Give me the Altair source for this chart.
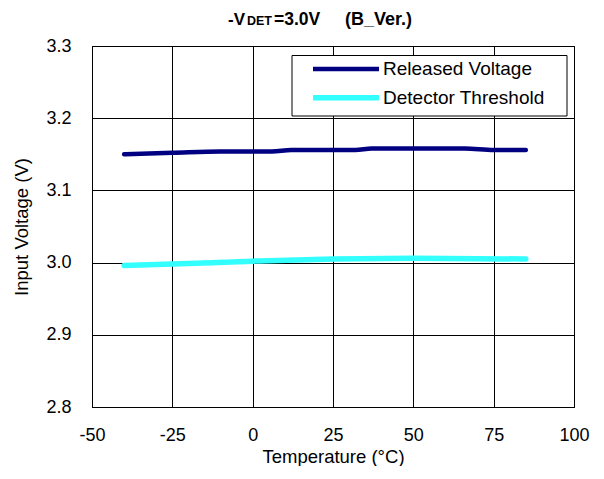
import altair as alt
import pandas as pd

# ---- data ----
rel_temp = [-40, -25, -10, 6, 12, 32, 37, 66, 75, 85]
rel_volt = [3.150, 3.152, 3.154, 3.154, 3.156, 3.156, 3.158, 3.158, 3.156, 3.156]
det_temp = [-40, -25, 0, 25, 50, 85]
det_volt = [2.996, 2.998, 3.002, 3.005, 3.006, 3.005]

series = ["Released Voltage", "Detector Threshold"]
colors = ["#000080", "#33FFFF"]
widths = [4.5, 5.5]

x_ticks = [-50, -25, 0, 25, 50, 75, 100]
y_ticks = [2.8, 2.9, 3.0, 3.1, 3.2, 3.3]

title_parts = ["-V", "DET", "=3.0V", "(B_Ver.)"]

FONT = "Liberation Sans"

rows = []
for t, v in zip(rel_temp, rel_volt):
    rows.append({"Temperature": t, "Voltage": v, "Series": series[0]})
for t, v in zip(det_temp, det_volt):
    rows.append({"Temperature": t, "Voltage": v, "Series": series[1]})
df = pd.DataFrame(rows)

color_scale = alt.Scale(domain=series, range=colors)
width_scale = alt.Scale(domain=series, range=widths)

lines = alt.Chart(df).mark_line(interpolate="monotone", strokeCap="round").encode(
    x=alt.X("Temperature:Q",
            scale=alt.Scale(domain=[-50, 100], nice=False),
            axis=alt.Axis(values=x_ticks, title="Temperature (°C)", labelFlush=False,
                          labelOverlap=False, ticks=False, labelPadding=19, titlePadding=3,
                          labelExpr="'' + datum.value")),
    y=alt.Y("Voltage:Q",
            scale=alt.Scale(domain=[2.8, 3.3], nice=False, zero=False),
            axis=alt.Axis(values=y_ticks, format=".1f", title="Input Voltage (V)",
                          labelOverlap=False, ticks=False, labelPadding=21, titlePadding=14)),
    color=alt.Color("Series:N", scale=color_scale, legend=None),
    strokeWidth=alt.StrokeWidth("Series:N", scale=width_scale, legend=None),
)

# ---- legend (drawn as marks) ----
leg_df = pd.DataFrame({"Series": series})
leg_y = alt.Y("Series:N", scale=alt.Scale(type="point", domain=series, range=[23, 51.7], padding=0),
              axis=None)

box = alt.Chart(pd.DataFrame({"a": [0]})).mark_rect(
    fill="white", stroke="black", strokeWidth=1
).encode(x=alt.value(200), x2=alt.value(475), y=alt.value(9.5), y2=alt.value(70))

leg_rule = alt.Chart(leg_df).mark_rule(strokeCap="butt").encode(
    x=alt.value(221), x2=alt.value(287), y=leg_y,
    color=alt.Color("Series:N", scale=color_scale, legend=None),
    strokeWidth=alt.StrokeWidth("Series:N", scale=width_scale, legend=None),
)

leg_text = alt.Chart(leg_df).mark_text(
    align="left", baseline="middle", font=FONT, fontSize=19, color="black"
).encode(x=alt.value(291), y=leg_y, text="Series:N")


# ---- title pieces ----
def title_piece(txt, xpos, size):
    return alt.Chart(pd.DataFrame({"t": [txt]})).mark_text(
        align="left", baseline="alphabetic", font=FONT, fontSize=size,
        fontWeight="bold", color="black"
    ).encode(x=alt.value(xpos), y=alt.value(-21), text="t:N")


t1 = title_piece(title_parts[0], 136, 17)
t2 = title_piece(title_parts[1], 155, 12.5)
t3 = title_piece(title_parts[2], 182, 17.5)
t4 = title_piece(title_parts[3], 253, 18)

chart = alt.layer(lines, box, leg_rule, leg_text, t1, t2, t3, t4).resolve_scale(
    y="independent"
).properties(
    width=482, height=361,
    autosize=alt.AutoSizeParams(type="none"),
    padding={"left": 84, "top": 38, "right": 20, "bottom": 59},
).configure_axis(
    labelFont=FONT, titleFont=FONT, labelFontSize=18, titleFontSize=18.5,
    titleFontWeight="normal", labelColor="black", titleColor="black",
    grid=True, gridColor="black", gridOpacity=1, gridWidth=1,
    domainColor="black", domainWidth=1,
).configure_view(stroke="black", strokeWidth=1)

chart.save("out.html", embed_options={"renderer": "svg", "actions": False})
